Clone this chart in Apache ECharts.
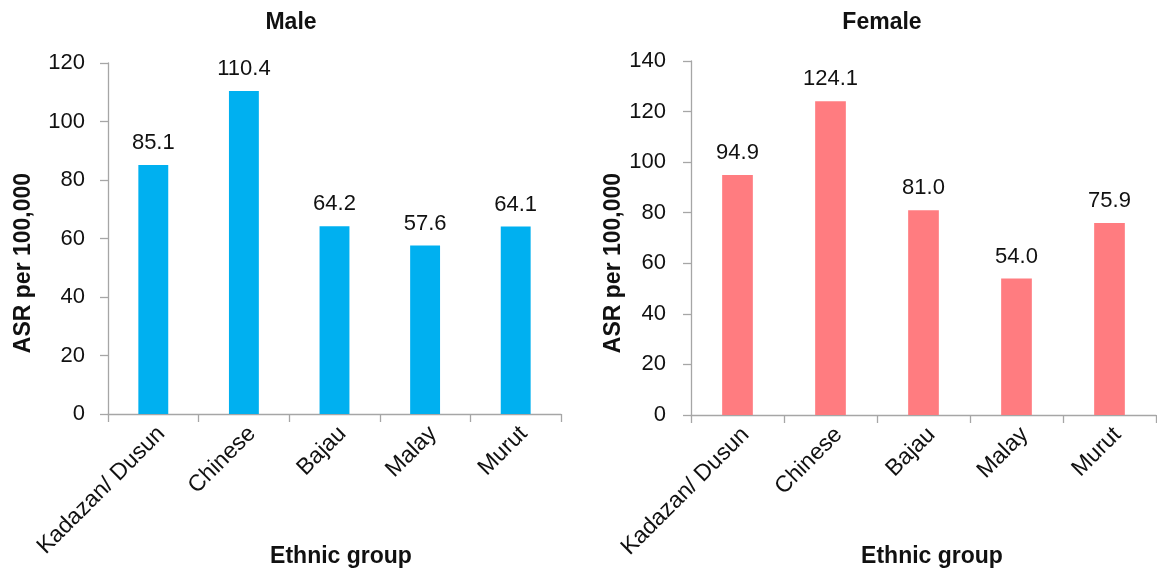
<!DOCTYPE html>
<html>
<head>
<meta charset="utf-8">
<script src="https://cdn.jsdelivr.net/npm/echarts@6/dist/echarts.min.js"></script>
<style>
html,body{margin:0;padding:0;background:#fff;}
#c{width:1157px;height:576px;}
</style>
</head>
<body>
<div id="c"></div>
<script>
const categories = ["Kadazan/ Dusun", "Chinese", "Bajau", "Malay", "Murut"];
const maleValues = [85.1, 110.4, 64.2, 57.6, 64.1];
const femaleValues = [94.9, 124.1, 81.0, 54.0, 75.9];
const maleTicks = { min: 0, max: 120, interval: 20 };
const femaleTicks = { min: 0, max: 140, interval: 20 };

const FONT = '"Liberation Sans", Arial, sans-serif';
const axisGray = '#a6a6a6';

const chart = echarts.init(document.getElementById('c'), null, { renderer: 'canvas' });

function xAxisDef(gridIndex) {
  return {
    type: 'category', gridIndex, data: categories,
    axisLine: { show: true, lineStyle: { color: axisGray, width: 1.3 } },
    axisTick: { show: true, alignWithLabel: false, length: 8, lineStyle: { color: axisGray, width: 1.3 } },
    axisLabel: { rotate: 45, margin: 8, verticalAlign: 'top', fontFamily: FONT, fontSize: 23, color: '#111', interval: 0 },
    splitLine: { show: false }
  };
}
function yAxisDef(gridIndex, t, margin) {
  return {
    type: 'value', gridIndex, min: t.min, max: t.max, interval: t.interval,
    axisLine: { show: true, lineStyle: { color: axisGray, width: 1.3 } },
    axisTick: { show: true, length: 8, lineStyle: { color: axisGray, width: 1.3 } },
    axisLabel: { margin, fontFamily: FONT, fontSize: 22, color: '#111' },
    splitLine: { show: false }
  };
}
function labelDef() {
  return {
    show: true, position: 'top', distance: 11,
    fontFamily: FONT, fontSize: 22, color: '#111',
    formatter: p => p.value.toFixed(1)
  };
}

const boldText = (x, y, text, rotation) => ({
  type: 'text', x, y, rotation: rotation || 0,
  style: {
    text, fontFamily: FONT, fontSize: 23, fontWeight: 'bold', fill: '#111',
    align: 'center', verticalAlign: 'middle'
  }
});

chart.setOption({
  backgroundColor: '#fff',
  animation: false,
  grid: [
    { left: 108, right: 596, top: 63, bottom: 162, containLabel: false },
    { left: 691, right: 1, top: 61, bottom: 161, containLabel: false }
  ],
  xAxis: [xAxisDef(0), xAxisDef(1)],
  yAxis: [yAxisDef(0, maleTicks, 23), yAxisDef(1, femaleTicks, 25)],
  series: [
    { type: 'bar', xAxisIndex: 0, yAxisIndex: 0, data: maleValues, barWidth: '33%',
      itemStyle: { color: '#00B0F0' }, label: labelDef() },
    { type: 'bar', xAxisIndex: 1, yAxisIndex: 1, data: femaleValues, barWidth: '33%',
      itemStyle: { color: '#FF7C80' }, label: labelDef() }
  ],
  graphic: [
    boldText(291, 23, 'Male'),
    boldText(882, 23, 'Female'),
    boldText(24, 263, 'ASR per 100,000', Math.PI / 2),
    boldText(614, 263, 'ASR per 100,000', Math.PI / 2),
    boldText(341, 557, 'Ethnic group'),
    boldText(932, 557, 'Ethnic group')
  ]
});
</script>
</body>
</html>
